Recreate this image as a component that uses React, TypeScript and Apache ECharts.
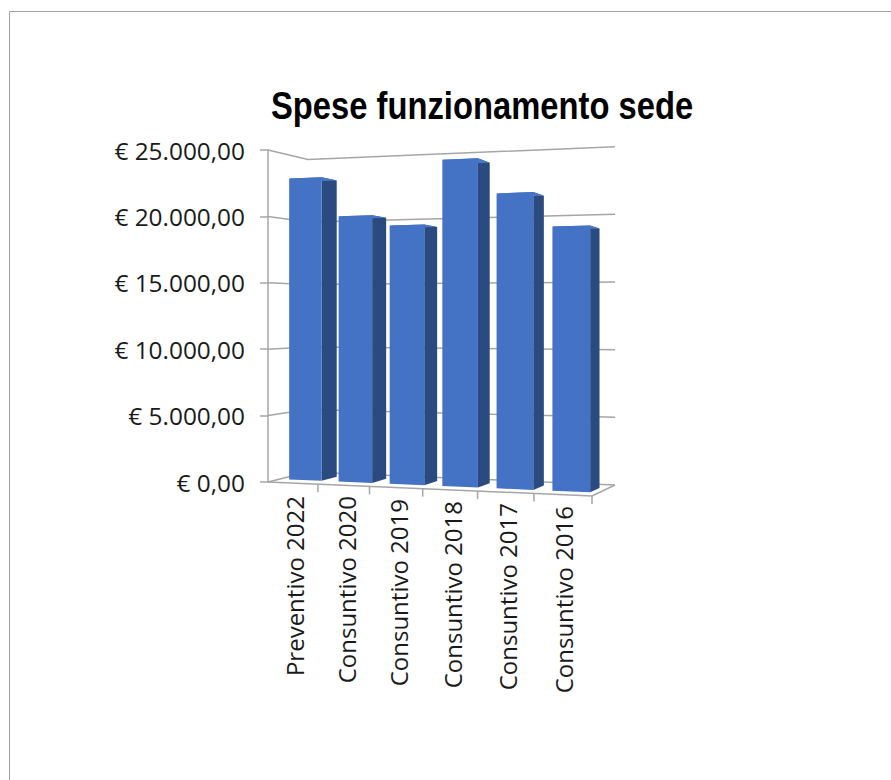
import React, { useEffect, useRef } from "react";
import * as echarts from "echarts";

const categories = ["Preventivo 2022", "Consuntivo 2020", "Consuntivo 2019", "Consuntivo 2018", "Consuntivo 2017", "Consuntivo 2016"];
const values = [23000, 20000, 19200, 23900, 21300, 18800];
const yTicks = [0, 5000, 10000, 15000, 20000, 25000];
const titleText = "Spese funzionamento sede";
// Per-label nudges (along the label's length, across it), following the tilted floor
const labelShiftAlong = [0, 0, 3, 5, 7, 10];
const labelShiftAcross = [-0.5, -3, -5, -5, -4, -2];

const G = { left: 268, top: 150, width: 324, height: 332 };
// Corners of the tilted box: front/back, bottom/top, left/right
const C = {
  fl: { b: [268, 482], t: [268, 150] },
  fr: { b: [592, 496], t: [592, 133] },
  bl: { b: [308, 472], t: [308, 159.5] },
  br: { b: [615, 485], t: [615, 146.7] },
};
const lerp = (a: number, b: number, k: number) => a + (b - a) * k;
const warp = (t: number) => t - 0.09 * t * (1 - t);
// Maps a point of the flat grid plus a depth (0 front, 1 back) to the tilted box
function project(px: number, py: number, d: number): number[] {
  const t = warp((px - G.left) / G.width);
  const f = (G.top + G.height - py) / G.height;
  const corner = (k: "b" | "t", i: number) =>
    lerp(lerp(C.fl[k][i], C.fr[k][i], t), lerp(C.bl[k][i], C.br[k][i], t), d);
  return [lerp(corner("b", 0), corner("t", 0), f), lerp(corner("b", 1), corner("t", 1), f)];
}

const euro = (v: number) =>
  "€ " + v.toLocaleString("de-DE", { minimumFractionDigits: 2, maximumFractionDigits: 2 });

export default function App() {
  const ref = useRef<HTMLDivElement>(null);
  useEffect(() => {
    document.body.style.margin = "0";
    const chart = echarts.init(ref.current!, undefined, { renderer: "svg" });
    const rich: Record<string, any> = {};
    categories.forEach((_, i) => {
      rich["c" + i] = {
        fontFamily: "Open Sans",
        fontSize: 24,
        color: "#1a1a1a",
        padding: [Math.max(labelShiftAcross[i], 0) * 2, labelShiftAlong[i], Math.max(-labelShiftAcross[i], 0) * 2, 0],
      };
    });
    const lineStyle = { stroke: "#a6a6a6", lineWidth: 1.5, fill: "none" };
    chart.setOption({
      animation: false,
      backgroundColor: "#fff",
      grid: { left: G.left, top: G.top, width: G.width, height: G.height },
      xAxis: {
        type: "category",
        data: categories,
        axisLine: { show: false },
        axisTick: { show: false },
        axisLabel: {
          interval: 0,
          rotate: 90,
          margin: 14,
          formatter: (v: string) => `{c${categories.indexOf(v)}|${v}}`,
          rich,
        },
      },
      yAxis: {
        type: "value",
        min: 0,
        max: 25000,
        interval: 5000,
        splitLine: { show: false },
        axisLine: { show: true, lineStyle: { color: "#a6a6a6", width: 1.5 } },
        axisTick: { show: true, length: 8, lineStyle: { color: "#a6a6a6", width: 1.5 } },
        axisLabel: {
          margin: 23,
          formatter: euro,
          fontFamily: "Open Sans",
          fontSize: 24.4,
          color: "#1a1a1a",
        },
      },
      graphic: [
        {
          type: "polyline",
          silent: true,
          shape: { points: [[9.5, 780], [9.5, 11.5], [891, 11.5]] },
          style: { stroke: "#a0a0a0", lineWidth: 1, fill: "none" },
        },
        {
          type: "text",
          x: 271,
          y: 86,
          scaleX: 0.84,
          style: {
            text: titleText,
            fontFamily: "Liberation Sans",
            fontWeight: "bold",
            fontSize: 39,
            fill: "#000",
          },
        },
      ],
      series: [
        {
          type: "custom",
          name: "walls",
          coordinateSystem: "cartesian2d",
          silent: true,
          z: 1,
          data: yTicks.map((v) => [0, v]),
          encode: { x: 0, y: 1 },
          renderItem: (_p: any, api: any) => {
            const v = api.value(1);
            const y = api.coord([0, v])[1];
            const L = G.left, R = G.left + G.width;
            const children: any[] = [
              { type: "polyline", shape: { points: [project(L, y, 0), project(L, y, 1), project(R, y, 1)] }, style: lineStyle },
            ];
            if (v === 0) {
              children.push({
                type: "polyline",
                shape: { points: [project(L, y, 0), project(R, y, 0), project(R, y, 1)] },
                style: lineStyle,
              });
              for (let i = 1; i <= categories.length; i++) {
                const x = L + (G.width * i) / categories.length;
                const a = project(x, y, 0);
                children.push({
                  type: "line",
                  shape: { x1: a[0], y1: a[1], x2: a[0], y2: a[1] + 8 },
                  style: { stroke: "#a6a6a6", lineWidth: 1.5 },
                });
              }
            }
            return { type: "group", children };
          },
        },
        {
          type: "custom",
          name: "Spese",
          coordinateSystem: "cartesian2d",
          z: 2,
          data: values.map((v, i) => [i, v]),
          encode: { x: 0, y: 1 },
          renderItem: (_p: any, api: any) => {
            const i = api.value(0);
            const v = api.value(1);
            const c = api.coord([i, v]);
            const zero = api.coord([i, 0]);
            const hw = api.size([1, 0])[0] * 0.33;
            const d0 = 0.3, d1 = 0.7;
            const xa = c[0] - hw + 1, xb = c[0] + hw + 1;
            const fbl = project(xa, zero[1], d0), fbr = project(xb, zero[1], d0);
            const ftl = project(xa, c[1], d0), ftr = project(xb, c[1], d0);
            const bbr = project(xb, zero[1], d1), btr = project(xb, c[1], d1), btl = project(xa, c[1], d1);
            return {
              type: "group",
              children: [
                { type: "polygon", shape: { points: [fbr, bbr, btr, ftr] }, style: { fill: "#2a4a80" } },
                { type: "polygon", shape: { points: [ftl, ftr, btr, btl] }, style: { fill: "#4a78c8" } },
                { type: "polygon", shape: { points: [fbl, fbr, ftr, ftl] }, style: { fill: "#4472c4" } },
              ],
            };
          },
        },
      ],
    });
    return () => chart.dispose();
  }, []);
  return <div ref={ref} style={{ position: "absolute", left: 0, top: 0, width: 891, height: 780 }} />;
}
